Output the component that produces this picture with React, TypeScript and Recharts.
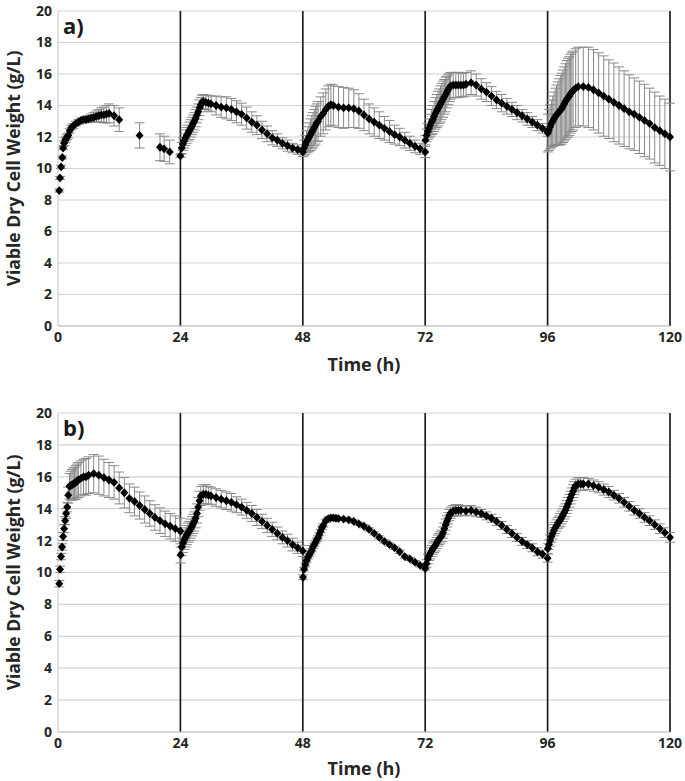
import {
  ScatterChart,
  Scatter,
  XAxis,
  YAxis,
  CartesianGrid,
  ReferenceLine,
  ErrorBar
} from "recharts";

// hours, one line per 24 h cycle
const timeA = [
  0.25, 0.4, 0.6, 0.85, 1.0, 1.2, 1.4, 1.6, 1.8, 2.0, 2.3, 2.6, 3.0, 3.5, 4.0, 4.5, 5.0, 5.5, 6.0, 6.5, 7.0, 7.5, 8.0, 8.5, 9.0, 9.5, 10.0, 11.0, 12.0, 16.0, 20.0, 20.8, 21.9, 24.0,
  24.25, 24.5, 24.75, 25, 25.25, 25.5, 25.75, 26, 26.25, 26.5, 26.75, 27, 27.25, 27.5, 27.75, 28, 28.25, 28.5, 29, 29.5, 30, 31, 32, 33, 34, 35, 36, 37, 38, 39, 40, 41, 42, 43, 44, 45, 46, 47, 48,
  48.25, 48.5, 48.75, 49, 49.25, 49.5, 49.75, 50, 50.25, 50.5, 50.75, 51, 51.5, 52, 52.5, 53, 53.5, 54, 55, 56, 57, 58, 59, 60, 61, 62, 63, 64, 65, 66, 67, 68, 69, 70, 71, 72,
  72.05, 72.25, 72.5, 72.75, 73, 73.25, 73.5, 73.75, 74, 74.25, 74.5, 74.75, 75, 75.25, 75.5, 75.75, 76, 76.25, 76.5, 76.75, 77, 77.5, 78, 78.5, 79, 79.5, 80, 81, 82, 83, 84, 85, 86, 87, 88, 89, 90, 91, 92, 93, 94, 95, 96,
  96.05, 96.25, 96.5, 96.75, 97, 97.25, 97.5, 97.75, 98, 98.25, 98.5, 98.75, 99, 99.25, 99.5, 99.75, 100, 100.25, 100.5, 100.75, 101, 101.5, 102, 103, 104, 105, 106, 107, 108, 109, 110, 111, 112, 113, 114, 115, 116, 117, 118, 119, 120
];
// viable DCW (g/L)
const dcwA = [
  8.6, 9.4, 10.1, 10.7, 11.3, 11.6, 11.8, 11.9, 12.0, 12.1, 12.4, 12.6, 12.7, 12.85, 12.95, 13.05, 13.1, 13.1, 13.15, 13.2, 13.25, 13.3, 13.35, 13.4, 13.4, 13.45, 13.5, 13.35, 13.1, 12.1, 11.35, 11.25, 11.05, 10.8,
  11.3, 11.55, 11.75, 11.95, 12.1, 12.25, 12.4, 12.55, 12.7, 12.85, 13.0, 13.2, 13.4, 13.6, 13.85, 14.05, 14.2, 14.25, 14.2, 14.15, 14.1, 14.0, 13.9, 13.85, 13.75, 13.6, 13.45, 13.2, 12.95, 12.75, 12.45, 12.2, 11.95, 11.8, 11.6, 11.45, 11.3, 11.2, 11.05,
  11.3, 11.5, 11.7, 11.85, 12.0, 12.15, 12.3, 12.45, 12.6, 12.75, 12.9, 13.0, 13.3, 13.5, 13.75, 13.95, 14.05, 14.0, 13.9, 13.85, 13.85, 13.8, 13.65, 13.4, 13.15, 12.95, 12.75, 12.55, 12.35, 12.15, 12.0, 11.8, 11.6, 11.4, 11.25, 11.05,
  11.8, 12.1, 12.35, 12.55, 12.75, 12.95, 13.1, 13.3, 13.5, 13.65, 13.8, 13.95, 14.1, 14.25, 14.4, 14.55, 14.7, 14.85, 15.0, 15.15, 15.25, 15.3, 15.3, 15.3, 15.3, 15.3, 15.35, 15.45, 15.3, 15.05, 14.85, 14.6, 14.35, 14.15, 13.95, 13.75, 13.55, 13.35, 13.15, 12.95, 12.75, 12.55, 12.35,
  12.25, 12.45, 12.65, 12.85, 13.0, 13.15, 13.3, 13.4, 13.5, 13.6, 13.7, 13.8, 13.95, 14.1, 14.25, 14.4, 14.5, 14.6, 14.75, 14.85, 14.95, 15.1, 15.2, 15.2, 15.15, 15.0, 14.8, 14.6, 14.4, 14.2, 14.0, 13.8, 13.6, 13.45, 13.25, 13.05, 12.85, 12.6, 12.4, 12.2, 12.0
];
// standard deviation (g/L)
const sdA = [
  0.1, 0.1, 0.1, 0.1, 0.1, 0.15, 0.15, 0.15, 0.15, 0.15, 0.15, 0.15, 0.15, 0.15, 0.15, 0.15, 0.15, 0.2, 0.2, 0.25, 0.3, 0.35, 0.4, 0.45, 0.5, 0.55, 0.6, 0.65, 0.75, 0.8, 0.85, 0.8, 0.75, 0.1,
  0.35, 0.4, 0.45, 0.5, 0.5, 0.5, 0.55, 0.55, 0.55, 0.55, 0.55, 0.55, 0.5, 0.5, 0.5, 0.45, 0.45, 0.45, 0.45, 0.5, 0.5, 0.6, 0.65, 0.7, 0.7, 0.7, 0.7, 0.7, 0.65, 0.6, 0.55, 0.5, 0.45, 0.4, 0.35, 0.35, 0.3, 0.3, 0.3,
  0.5, 0.6, 0.7, 0.8, 0.9, 1.0, 1.05, 1.1, 1.15, 1.2, 1.2, 1.25, 1.25, 1.3, 1.3, 1.3, 1.3, 1.3, 1.3, 1.3, 1.25, 1.2, 1.1, 1.0, 0.95, 0.9, 0.85, 0.75, 0.7, 0.6, 0.55, 0.5, 0.45, 0.4, 0.35, 0.35,
  0.3, 0.4, 0.5, 0.6, 0.7, 0.8, 0.9, 0.95, 1.0, 1.05, 1.1, 1.1, 1.15, 1.15, 1.15, 1.1, 1.1, 1.0, 0.95, 0.9, 0.85, 0.8, 0.8, 0.8, 0.75, 0.75, 0.75, 0.75, 0.7, 0.65, 0.6, 0.6, 0.55, 0.55, 0.5, 0.45, 0.45, 0.4, 0.4, 0.35, 0.35, 0.3, 0.3,
  1.2, 1.3, 1.4, 1.5, 1.6, 1.7, 1.8, 1.9, 2.0, 2.1, 2.2, 2.25, 2.3, 2.35, 2.4, 2.45, 2.5, 2.5, 2.5, 2.5, 2.5, 2.5, 2.5, 2.5, 2.55, 2.55, 2.55, 2.55, 2.5, 2.5, 2.45, 2.4, 2.35, 2.3, 2.3, 2.3, 2.25, 2.25, 2.2, 2.2, 2.15
];

const timeB = [
  0.25, 0.4, 0.6, 0.8, 1.0, 1.2, 1.4, 1.6, 1.8, 2.0, 2.25, 2.5, 2.75, 3.0, 3.25, 3.5, 3.75, 4.0, 4.5, 5.0, 5.5, 6.0, 7, 8, 9, 10, 11, 12, 13, 14, 15, 16, 17, 18, 19, 20, 21, 22, 23, 24,
  24.05, 24.25, 24.5, 24.75, 25, 25.25, 25.5, 25.75, 26, 26.25, 26.5, 26.75, 27, 27.25, 27.5, 27.75, 28, 28.5, 29, 29.5, 30, 31, 32, 33, 34, 35, 36, 37, 38, 39, 40, 41, 42, 43, 44, 45, 46, 47, 48,
  48.05, 48.25, 48.5, 48.75, 49, 49.25, 49.5, 49.75, 50, 50.25, 50.5, 50.75, 51, 51.25, 51.5, 51.75, 52, 52.5, 53, 53.5, 54, 54.5, 55, 56, 57, 58, 59, 60, 61, 62, 63, 64, 65, 66, 67, 68, 69, 70, 71, 72,
  72.25, 72.5, 72.75, 73, 73.25, 73.5, 73.75, 74, 74.25, 74.5, 74.75, 75, 75.25, 75.5, 75.75, 76, 76.25, 76.5, 76.75, 77, 77.5, 78, 78.5, 79, 80, 81, 82, 83, 84, 85, 86, 87, 88, 89, 90, 91, 92, 93, 94, 95, 96,
  96.05, 96.25, 96.5, 96.75, 97, 97.25, 97.5, 97.75, 98, 98.25, 98.5, 98.75, 99, 99.25, 99.5, 99.75, 100, 100.25, 100.5, 100.75, 101, 101.25, 101.5, 102, 102.5, 103, 104, 105, 106, 107, 108, 109, 110, 111, 112, 113, 114, 115, 116, 117, 118, 119, 120
];
const dcwB = [
  9.3, 10.2, 11.0, 11.6, 12.25, 12.75, 13.25, 13.7, 14.1, 14.85, 15.4, 15.45, 15.5, 15.55, 15.6, 15.65, 15.75, 15.8, 15.9, 16.0, 16.0, 16.1, 16.2, 16.1, 15.95, 15.8, 15.65, 15.3, 15.0, 14.65, 14.45, 14.2, 13.95, 13.7, 13.45, 13.25, 13.05, 12.9, 12.75, 12.6,
  11.1, 11.6, 11.85, 12.05, 12.2, 12.35, 12.5, 12.6, 12.75, 12.9, 13.05, 13.2, 13.4, 13.7, 14.1, 14.5, 14.8, 14.9, 14.9, 14.85, 14.8, 14.7, 14.6, 14.5, 14.4, 14.25, 14.1, 13.9, 13.7, 13.45, 13.2, 12.95, 12.7, 12.45, 12.2, 12.0, 11.75, 11.55, 11.35,
  9.7, 10.2, 10.5, 10.75, 10.95, 11.1, 11.25, 11.4, 11.6, 11.75, 11.9, 12.05, 12.2, 12.4, 12.6, 12.8, 12.95, 13.25, 13.38, 13.42, 13.42, 13.4, 13.38, 13.35, 13.3, 13.2, 13.05, 12.9, 12.7, 12.45, 12.2, 11.95, 11.75, 11.55, 11.3, 11.0, 10.85, 10.65, 10.45, 10.25,
  10.55, 10.85, 11.05, 11.2, 11.35, 11.5, 11.6, 11.7, 11.85, 12.0, 12.1, 12.2, 12.3, 12.5, 12.75, 13.0, 13.2, 13.4, 13.6, 13.75, 13.85, 13.9, 13.9, 13.9, 13.85, 13.9, 13.8, 13.7, 13.55, 13.4, 13.2, 12.95, 12.7, 12.45, 12.2, 11.95, 11.75, 11.55, 11.3, 11.15, 10.9,
  11.5, 11.75, 12.0, 12.25, 12.45, 12.65, 12.8, 12.95, 13.1, 13.2, 13.3, 13.45, 13.6, 13.75, 13.9, 14.1, 14.3, 14.5, 14.7, 14.9, 15.1, 15.3, 15.45, 15.55, 15.55, 15.55, 15.55, 15.45, 15.35, 15.2, 15.05, 14.85, 14.65, 14.4, 14.15, 13.9, 13.7, 13.45, 13.25, 13.0, 12.75, 12.5, 12.2
];
const sdB = [
  0.2, 0.2, 0.2, 0.2, 0.25, 0.25, 0.25, 0.3, 0.3, 0.5, 0.8, 0.9, 0.95, 1.0, 1.0, 1.05, 1.05, 1.1, 1.1, 1.1, 1.15, 1.15, 1.2, 1.2, 1.15, 1.1, 1.05, 1.0, 0.95, 0.9, 0.9, 0.85, 0.85, 0.8, 0.8, 0.8, 0.8, 0.8, 0.8, 0.8,
  0.5, 0.55, 0.6, 0.6, 0.6, 0.6, 0.6, 0.6, 0.6, 0.6, 0.6, 0.6, 0.6, 0.6, 0.6, 0.6, 0.6, 0.6, 0.6, 0.55, 0.55, 0.55, 0.55, 0.55, 0.55, 0.5, 0.5, 0.5, 0.5, 0.5, 0.45, 0.45, 0.45, 0.4, 0.4, 0.4, 0.4, 0.35, 0.35,
  0.15, 0.1, 0.1, 0.1, 0.1, 0.1, 0.1, 0.1, 0.1, 0.1, 0.1, 0.1, 0.1, 0.1, 0.1, 0.1, 0.1, 0.1, 0.1, 0.1, 0.1, 0.1, 0.1, 0.1, 0.1, 0.1, 0.1, 0.1, 0.1, 0.1, 0.1, 0.1, 0.1, 0.1, 0.1, 0.1, 0.1, 0.1, 0.1, 0.1,
  0.25, 0.3, 0.3, 0.35, 0.35, 0.35, 0.35, 0.35, 0.35, 0.35, 0.35, 0.35, 0.35, 0.35, 0.35, 0.35, 0.35, 0.35, 0.35, 0.35, 0.35, 0.35, 0.35, 0.3, 0.3, 0.3, 0.3, 0.25, 0.25, 0.25, 0.25, 0.25, 0.25, 0.25, 0.25, 0.25, 0.25, 0.25, 0.25, 0.25, 0.25,
  0.3, 0.3, 0.35, 0.35, 0.35, 0.35, 0.35, 0.35, 0.35, 0.35, 0.4, 0.4, 0.4, 0.4, 0.4, 0.4, 0.4, 0.4, 0.4, 0.4, 0.4, 0.4, 0.4, 0.4, 0.4, 0.4, 0.35, 0.35, 0.35, 0.35, 0.35, 0.3, 0.3, 0.3, 0.3, 0.3, 0.3, 0.3, 0.3, 0.3, 0.3, 0.3, 0.3
];

const xTicks = [0, 24, 48, 72, 96, 120];
const yTicks = [0, 2, 4, 6, 8, 10, 12, 14, 16, 18, 20];

const font = "'Open Sans', 'Liberation Sans', sans-serif";

const Diamond = (p: any) => (
  <polygon
    points={`${p.cx},${p.cy - 4.4} ${p.cx + 4},${p.cy} ${p.cx},${p.cy + 4.4} ${p.cx - 4},${p.cy}`}
    fill="#000"
  />
);

const YTitle = (props: any) => {
  const vb = props.viewBox || {};
  const cy = vb.y + vb.height / 2;
  return (
    <text
      x={13}
      y={cy}
      transform={`rotate(-90 13 ${cy})`}
      textAnchor="middle"
      dominantBaseline="central"
      fontFamily={font}
      fontWeight={700}
      fontSize={17.5}
      fill="#262626"
    >
      Viable Dry Cell Weight (g/L)
    </text>
  );
};

function Panel({ time, dcw, sd, tag, height, top, axisH, titleOffset }: any) {
  const rows = time.map((t: number, i: number) => ({ t, v: dcw[i], sd: sd[i] }));
  const tick = { fontFamily: font, fontWeight: 700, fontSize: 14, fill: "#262626" };
  return (
    <div style={{ position: "relative", width: 685, height }}>
      <ScatterChart width={685} height={height} margin={{ top, right: 15, bottom: 0, left: 0 }}>
        <CartesianGrid vertical={false} stroke="#d4d4d4" strokeWidth={1.2} />
        <XAxis
          type="number"
          dataKey="t"
          domain={[0, 120]}
          ticks={xTicks}
          interval={0}
          height={axisH}
          tickLine={false}
          tickSize={4}
          tickMargin={2}
          axisLine={{ stroke: "#c4c4c4" }}
          tick={tick}
          label={{
            value: "Time (h)",
            position: "insideBottom",
            offset: titleOffset,
            fontFamily: font,
            fontWeight: 700,
            fontSize: 18,
            fill: "#262626"
          }}
        />
        <YAxis
          type="number"
          dataKey="v"
          domain={[0, 20]}
          ticks={yTicks}
          interval={0}
          width={58}
          tickLine={false}
          tickSize={6}
          tickMargin={0}
          axisLine={{ stroke: "#c4c4c4" }}
          tick={tick}
          label={(p: any) => <YTitle {...p} />}
        />
        {xTicks.slice(1).map((x) => (
          <ReferenceLine key={x} x={x} stroke="#1e1e1e" strokeWidth={1.7} />
        ))}
        <Scatter data={rows} shape={Diamond} isAnimationActive={false}>
          <ErrorBar dataKey="sd" direction="y" width={5} stroke="#8a8a8a" strokeWidth={1} />
        </Scatter>
      </ScatterChart>
      <div
        style={{
          position: "absolute",
          left: 63,
          top: top + 1,
          fontFamily: font,
          fontWeight: 700,
          fontSize: 22,
          color: "#1a1a1a",
          lineHeight: "26px"
        }}
      >
        {tag}
      </div>
    </div>
  );
}

export default function App() {
  return (
    <div style={{ position: "absolute", left: 0, top: 0, width: 685, height: 781, background: "#fff" }}>
      <Panel time={timeA} dcw={dcwA} sd={sdA} tag="a)" height={390} top={11} axisH={64} titleOffset={19} />
      <Panel time={timeB} dcw={dcwB} sd={sdB} tag="b)" height={391} top={23} axisH={49} titleOffset={6} />
    </div>
  );
}
